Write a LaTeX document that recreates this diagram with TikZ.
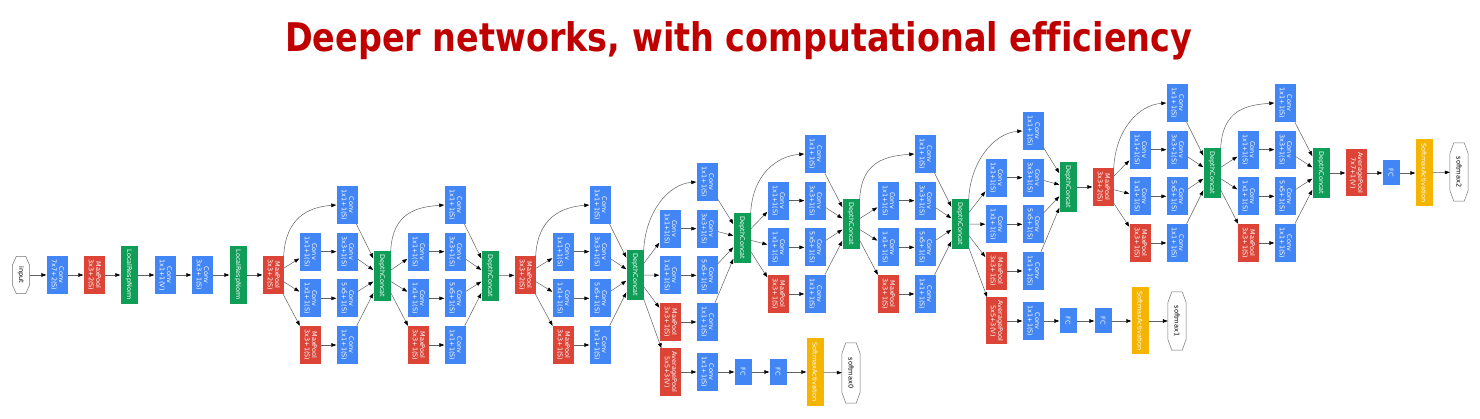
\documentclass[tikz,border=0pt]{standalone}
\usepackage{fontspec}
\usepackage{graphicx}
\usetikzlibrary{arrows.meta}
\newfontfamily\boxfont{DejaVu Sans}
\newfontfamily\ttlfont[Ligatures=NoCommon]{DejaVu Sans}
\definecolor{gblue}{RGB}{66,133,244}
\definecolor{gred}{RGB}{219,68,55}
\definecolor{ggreen}{RGB}{15,157,88}
\definecolor{gyellow}{RGB}{244,180,0}
\definecolor{ttlred}{RGB}{192,0,0}
\newcommand\twolab[2]{\rotatebox{-90}{\begin{tabular}{@{}c@{}}#1\\#2\end{tabular}}}
\newcommand\onelab[1]{\rotatebox{-90}{#1}}
\newcommand\octo[2]{\draw[draw=black!55, line width=0.5pt] ([xshift=4pt]#1.north west) -- ([xshift=-4pt]#1.north east) -- ([yshift=-#2pt]#1.north east) -- ([yshift=#2pt]#1.south east) -- ([xshift=-4pt]#1.south east) -- ([xshift=4pt]#1.south west) -- ([yshift=#2pt]#1.south west) -- ([yshift=-#2pt]#1.north west) -- cycle;}
\newcommand\incep[7]{%
\node[conv] (#1-t) at (#4,#6) {\twolab{Conv}{1x1+1(S)}};
\node[conv] (#1-a) at (#3,#6+46.67) {\twolab{Conv}{1x1+1(S)}};
\node[conv] (#1-c3) at (#4,#6+46.67) {\twolab{Conv}{3x3+1(S)}};
\node[conv] (#1-b) at (#3,#6+93.33) {\twolab{Conv}{1x1+1(S)}};
\node[conv] (#1-c5) at (#4,#6+93.33) {\twolab{Conv}{5x5+1(S)}};
\node[mpool] (#1-p) at (#3,#6+140) {\twolab{MaxPool}{3x3+1(S)}};
\node[conv] (#1-cp) at (#4,#6+140) {\twolab{Conv}{1x1+1(S)}};
\node[cat] (#1-cat) at (#5,#7) {\onelab{DepthConcat}};
\draw[edge] (#2) -- (#1-a);
\draw[edge] (#2) -- (#1-b);
\draw[edge] (#2) -- (#1-p);
\draw[edge] (#2.north east) .. controls +(2,-38) and +(-28,2) .. (#1-t.west);
\draw[edge] (#1-a) -- (#1-c3);
\draw[edge] (#1-b) -- (#1-c5);
\draw[edge] (#1-p) -- (#1-cp);
\draw[edge] (#1-t) -- (#1-cat);
\draw[edge] (#1-c3) -- (#1-cat);
\draw[edge] (#1-c5) -- (#1-cat);
\draw[edge] (#1-cp) -- (#1-cat);
}
\begin{document}
\begin{tikzpicture}[x=1pt,y=-1pt,
  box/.style={rectangle, inner sep=0pt, minimum width=21pt, minimum height=38pt, text=white, font=\boxfont\fontsize{6.5}{7.2}\selectfont},
  conv/.style={box, fill=gblue},
  mpool/.style={box, fill=gred},
  apool/.style={box, fill=gred, minimum height=47pt},
  cat/.style={box, fill=ggreen, minimum width=17pt, minimum height=50pt},
  lrn/.style={box, fill=ggreen, minimum width=17pt, minimum height=58pt},
  fc/.style={box, fill=gblue, minimum width=17pt, minimum height=25pt},
  sact/.style={box, fill=gyellow, minimum width=17pt, minimum height=67pt},
  term/.style={rectangle, inner sep=0pt, minimum width=18pt, minimum height=58pt, text=black, font=\boxfont\fontsize{6.6}{7}\selectfont},
  edge/.style={draw=black!62, line width=0.5pt, -{Triangle[length=5pt,width=3.6pt,black]}}]
\useasboundingbox (0,0) rectangle (1480,419);
\fill[white] (0,0) rectangle (1480,419);
% title
\node[anchor=base west, inner sep=0pt, text=ttlred] (title) at (285,52) {\resizebox{907pt}{30pt}{\ttlfont\bfseries\fontsize{36}{40}\selectfont Deeper networks, with computational efficiency}};
% stem
\node[term, minimum height=37pt, minimum width=17pt] (in) at (21,275) {\onelab{input}};
\octo{in}{9}
\node[conv] (s1) at (57,275) {\twolab{Conv}{7x7+2(S)}};
\node[mpool] (s2) at (94,275) {\twolab{MaxPool}{3x3+2(S)}};
\node[lrn] (s3) at (129,275) {\onelab{LocalRespNorm}};
\node[conv] (s4) at (165,275) {\twolab{Conv}{1x1+1(V)}};
\node[conv] (s5) at (202,275) {\twolab{Conv}{3x3+1(S)}};
\node[lrn] (s6) at (238,275) {\onelab{LocalRespNorm}};
\node[mpool] (s7) at (273,275) {\twolab{MaxPool}{3x3+2(S)}};
\foreach \a/\b in {in/s1,s1/s2,s2/s3,s3/s4,s4/s5,s5/s6,s6/s7} \draw[edge] (\a) -- (\b);
% inception 3
\incep{i3a}{s7}{310}{347}{382}{205}{276}
\incep{i3b}{i3a-cat}{418}{455}{490}{205}{276}
\node[mpool] (m3) at (525,275) {\twolab{MaxPool}{3x3+2(S)}};
\draw[edge] (i3b-cat) -- (m3);
% inception 4
\incep{i4a}{m3}{563}{600}{635}{205}{275}
\incep{i4b}{i4a-cat}{670}{707}{742}{182}{238}
\node[apool] (x0p) at (670,372) {\twolab{AveragePool}{5x5+3(V)}};
\node[conv] (x0c) at (707,372) {\twolab{Conv}{1x1+1(S)}};
\node[fc] (x0f1) at (743,372) {\onelab{FC}};
\node[fc] (x0f2) at (778,372) {\onelab{FC}};
\node[sact] (x0s) at (815,372) {\onelab{SoftmaxActivation}};
\node[term, minimum height=60pt] (x0o) at (851,373) {\onelab{softmax0}};
\octo{x0o}{11}
\draw[edge] (i4a-cat) -- (x0p);
\foreach \a/\b in {x0p/x0c,x0c/x0f1,x0f1/x0f2,x0f2/x0s,x0s/x0o} \draw[edge] (\a) -- (\b);
\incep{i4c}{i4b-cat}{778}{815}{851}{154}{224}
\incep{i4d}{i4c-cat}{888}{925}{960}{154}{224}
\incep{i4e}{i4d-cat}{996}{1033}{1068}{131}{187}
\node[apool] (x1p) at (996,321) {\twolab{AveragePool}{5x5+3(V)}};
\node[conv] (x1c) at (1033,321) {\twolab{Conv}{1x1+1(S)}};
\node[fc] (x1f1) at (1068,321) {\onelab{FC}};
\node[fc] (x1f2) at (1103,321) {\onelab{FC}};
\node[sact] (x1s) at (1140,321) {\onelab{SoftmaxActivation}};
\node[term] (x1o) at (1177,321) {\onelab{softmax1}};
\octo{x1o}{11}
\draw[edge] (i4d-cat) -- (x1p);
\foreach \a/\b in {x1p/x1c,x1c/x1f1,x1f1/x1f2,x1f2/x1s,x1s/x1o} \draw[edge] (\a) -- (\b);
\node[mpool] (m4) at (1103,187) {\twolab{MaxPool}{3x3+2(S)}};
\draw[edge] (i4e-cat) -- (m4);
% inception 5
\incep{i5a}{m4}{1140}{1177}{1212}{103}{173}
\incep{i5b}{i5a-cat}{1248}{1285}{1321}{103}{173}
\node[apool] (x2p) at (1356,173) {\twolab{AveragePool}{7x7+1(V)}};
\node[fc] (x2f) at (1391,173) {\onelab{FC}};
\node[sact] (x2s) at (1424,173) {\onelab{SoftmaxActivation}};
\node[term] (x2o) at (1459,172) {\onelab{softmax2}};
\octo{x2o}{11}
\draw[edge] (i5b-cat) -- (x2p);
\foreach \a/\b in {x2p/x2f,x2f/x2s,x2s/x2o} \draw[edge] (\a) -- (\b);
\end{tikzpicture}
\end{document}
